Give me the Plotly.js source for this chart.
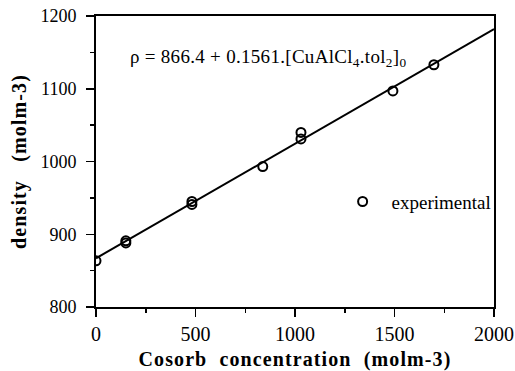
<!DOCTYPE html>
<html>
<head>
<meta charset="utf-8">
<script src="https://cdn.plot.ly/plotly-3.0.1.min.js"></script>
<style>
html,body{margin:0;padding:0;background:#fff;}
#chart{width:515px;height:371px;}
#chart .xtitle, #chart .ytitle{letter-spacing:1.1px;}
#chart .annotation-text{letter-spacing:0.3px;}
</style>
</head>
<body>
<div id="chart"></div>
<script>
// Experimental points
var concentration = [0, 150, 150, 482, 482, 838, 1030, 1030, 1492, 1698];
var density = [863.5, 891, 888, 945, 941, 993, 1040, 1031, 1097, 1133];
// Fitted line end points
var fitX = [0, 2000];
var fitY = [867, 1182];
var xTicks = [0, 500, 1000, 1500, 2000];
var yTicks = [800, 900, 1000, 1100, 1200];

var serif = "Liberation Serif, Times New Roman, serif";

var traces = [
  {x: fitX, y: fitY, mode: 'lines', line: {color: '#000', width: 2}, showlegend: false, hoverinfo: 'skip'},
  {x: concentration, y: density, mode: 'markers', name: 'experimental',
   marker: {symbol: 'circle-open', size: 9, color: '#000', line: {color: '#000', width: 2}}}
];

var layout = {
  width: 515, height: 371,
  margin: {l: 96, r: 21, t: 16, b: 64, pad: 0},
  paper_bgcolor: '#fff', plot_bgcolor: '#fff',
  font: {family: serif, color: '#000'},
  showlegend: true,
  legend: {x: 0.597, y: 0.362, xanchor: 'left', yanchor: 'middle', bgcolor: 'rgba(0,0,0,0)',
           font: {family: serif, size: 19, color: '#000'}, itemwidth: 48},
  xaxis: {
    range: [0, 2000], tickvals: xTicks, ticktext: xTicks.map(String),
    showgrid: false, zeroline: false, showline: true, linecolor: '#000', linewidth: 2, mirror: true,
    ticks: 'outside', ticklen: 8, tickwidth: 1.5, tickcolor: '#000', ticklabelstandoff: 0,
    minor: {dtick: 250, ticks: 'outside', ticklen: 4, tickwidth: 1.5, tickcolor: '#000', showgrid: false},
    tickfont: {family: serif, size: 20, color: '#000'},
    title: {text: 'Cosorb&nbsp; concentration&nbsp; (molm-3)', standoff: 12,
            font: {family: serif, size: 20, color: '#000', weight: 'bold'}}
  },
  yaxis: {
    range: [800, 1200], tickvals: yTicks, ticktext: yTicks.map(String),
    showgrid: false, zeroline: false, showline: true, linecolor: '#000', linewidth: 2, mirror: true,
    ticks: 'outside', ticklen: 8, tickwidth: 1.5, tickcolor: '#000', ticklabelstandoff: 6,
    minor: {dtick: 50, ticks: 'outside', ticklen: 4, tickwidth: 1.5, tickcolor: '#000', showgrid: false},
    tickfont: {family: serif, size: 18, color: '#000'},
    title: {text: 'density&nbsp;&nbsp; (molm-3)', standoff: 8,
            font: {family: serif, size: 20, color: '#000', weight: 'bold'}}
  },
  annotations: [{
    xref: 'paper', yref: 'paper', x: 0.092, y: 0.855, xanchor: 'left', yanchor: 'middle', showarrow: false,
    text: 'ρ = 866.4 + 0.1561.[CuAlCl<sub>4</sub>.tol<sub>2</sub>]<sub>0</sub>',
    font: {family: serif, size: 19, color: '#000'}
  }]
};

Plotly.newPlot('chart', traces, layout, {displayModeBar: false, staticPlot: true});
</script>
</body>
</html>
